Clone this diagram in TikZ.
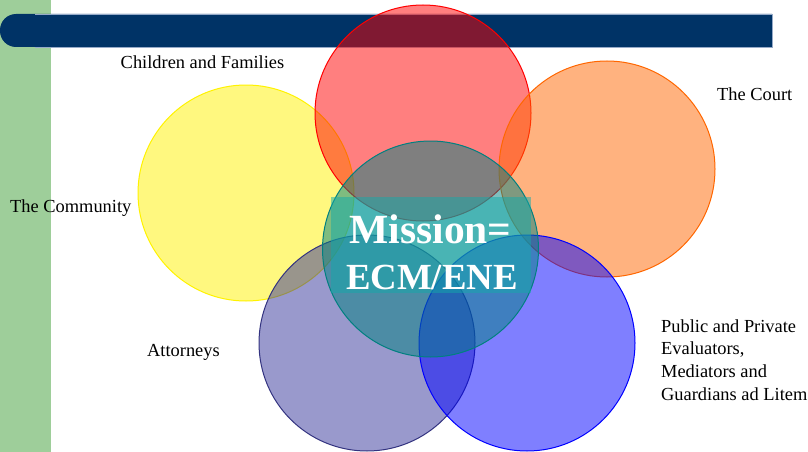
\documentclass[tikz,border=0pt]{standalone}
\usepackage{fontspec}
\setmainfont{Liberation Serif}
\definecolor{sidegreen}{RGB}{158,206,154}
\definecolor{barnavy}{RGB}{0,51,102}
\definecolor{baredge}{RGB}{150,170,200}
\definecolor{courtorange}{RGB}{255,102,0}
\definecolor{attslate}{RGB}{51,51,153}
\definecolor{attedge}{RGB}{51,51,128}
\definecolor{missionteal}{RGB}{0,128,128}
\definecolor{boxteal}{RGB}{20,170,170}
\begin{document}
\begin{tikzpicture}[x=1pt,y=-1pt,
  ring/.style={circle,minimum size=216pt,inner sep=0pt,line width=1pt,fill opacity=0.5,draw opacity=1},
  lbl/.style={inner sep=0pt,font=\fontsize{18.4}{22.6}\selectfont,text=black},
  bigtext/.style={inner sep=0pt,text=white,font=\bfseries}]
\useasboundingbox (0,0) rectangle (808,452);

% side strip and title bar
\fill[sidegreen] (0,0) rectangle (51,452);
\fill[barnavy] (772,14) [rounded corners=16pt] -- (0,14) -- (0,47) [sharp corners] -- (772,47) -- cycle;
\draw[baredge,line width=0.8pt] (35,14) -- (772,14) -- (772,47) -- (35,47);

% the six overlapping circles
\node[ring,fill=yellow,draw=yellow] (community) at (246,193) {};
\node[ring,fill=red,draw=red] (children) at (423,113) {};
\node[ring,fill=courtorange,draw=courtorange] (court) at (607,169) {};
\node[ring,fill=attslate,draw=attedge] (attorneys) at (367,343) {};
\node[ring,fill=blue,draw=blue] (evaluators) at (527,343) {};
\node[ring,fill=missionteal,draw=missionteal] (mission) at (430.5,249) {};

% centre panel
\node[inner sep=0pt,minimum width=200pt,minimum height=96pt,fill=boxteal,fill opacity=0.5] (panel) at (431,245) {};
\node[bigtext,anchor=base,font=\fontsize{41.5}{44}\selectfont\bfseries] (missiontop) at (430.5,243) {Mission=};
\node[bigtext,anchor=base,font=\fontsize{36.8}{40}\selectfont\bfseries] (missionbot) at (432,289) {ECM/ENE};

% labels
\node[lbl,anchor=base] (lchildren) at (202.5,68) {Children and Families};
\node[lbl,anchor=base west] (lcommunity) at (10,212) {The Community};
\node[lbl,anchor=base west] (lcourt) at (717,100) {The Court};
\node[lbl,anchor=base west] (lattorneys) at (147,356) {Attorneys};
\node[lbl,anchor=base west] (leval1) at (661,332) {Public and Private};
\node[lbl,anchor=base west] (leval2) at (661,354.5) {Evaluators,};
\node[lbl,anchor=base west] (leval3) at (661,377) {Mediators and};
\node[lbl,anchor=base west] (leval4) at (661,400) {Guardians ad Litem};
\end{tikzpicture}
\end{document}
